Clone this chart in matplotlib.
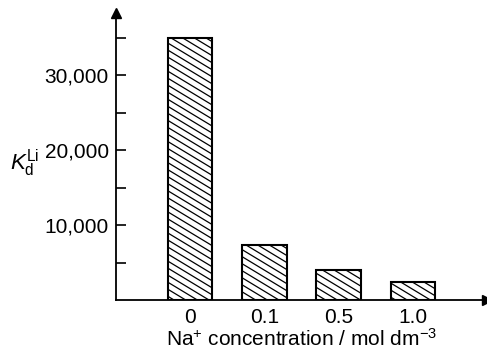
import numpy as np
import matplotlib
matplotlib.use('Agg')
import matplotlib.pyplot as plt
from matplotlib.collections import LineCollection

plt.rcParams['font.family'] = ['Liberation Sans', 'DejaVu Sans']
plt.rcParams['mathtext.fontset'] = 'custom'
plt.rcParams['mathtext.rm'] = 'Liberation Sans'
plt.rcParams['mathtext.it'] = 'Liberation Sans:italic'

categories = ['0', '0.1', '0.5', '1.0']
kd_values = [35000, 7300, 4000, 2400]
y_ticks = [10000, 20000, 30000]
y_tick_labels = ['10,000', '20,000', '30,000']

fig = plt.figure(figsize=(4.87, 3.51), dpi=100)
ax = fig.add_axes([0.238, 0.145, 0.762, 0.818])

x = np.arange(len(categories))
bars = ax.bar(x, kd_values, width=0.6, facecolor='white', edgecolor='black', linewidth=1.5, zorder=2)

ax.set_xlim(-1.0, 4.0)
ax.set_ylim(0, 38300)

# hatch lines (shallow slope), clipped to each bar
slope = -0.78
step = 0.0245
offsets = np.arange(0, 1 - slope + step, step)
segs = [[(0, c), (1, c + slope)] for c in offsets]
for b in bars:
    lc = LineCollection(segs, colors='black', linewidths=0.9, transform=ax.transAxes, zorder=3)
    ax.add_collection(lc)
    lc.set_clip_path(b)

for s in ['top', 'right']:
    ax.spines[s].set_visible(False)
ax.spines['left'].set_linewidth(1.3)
ax.spines['bottom'].set_linewidth(1.3)

# axis arrows
ax.plot(0, 1, '^', color='black', markersize=7, transform=ax.transAxes, clip_on=False)
ax.plot(1, 0, '>', color='black', markersize=7, transform=ax.transAxes, clip_on=False)

ax.set_yticks(y_ticks)
ax.set_yticklabels(y_tick_labels, fontsize=15)
ax.set_yticks([5000, 15000, 25000, 35000], minor=True)
ax.tick_params(axis='y', which='both', direction='in', length=7, width=1.2, pad=5)

ax.set_xticks(x)
ax.set_xticklabels(categories, fontsize=15)
ax.tick_params(axis='x', length=0, pad=6)
ax.set_xlabel('Na$^{+}$ concentration / mol dm$^{-3}$', fontsize=15, labelpad=0)

fig.text(0.02, 0.535, r'$K_\mathrm{d}^\mathrm{Li}$', fontsize=16, va='center', ha='left')

plt.savefig('out.png', dpi=100)
plt.close()
